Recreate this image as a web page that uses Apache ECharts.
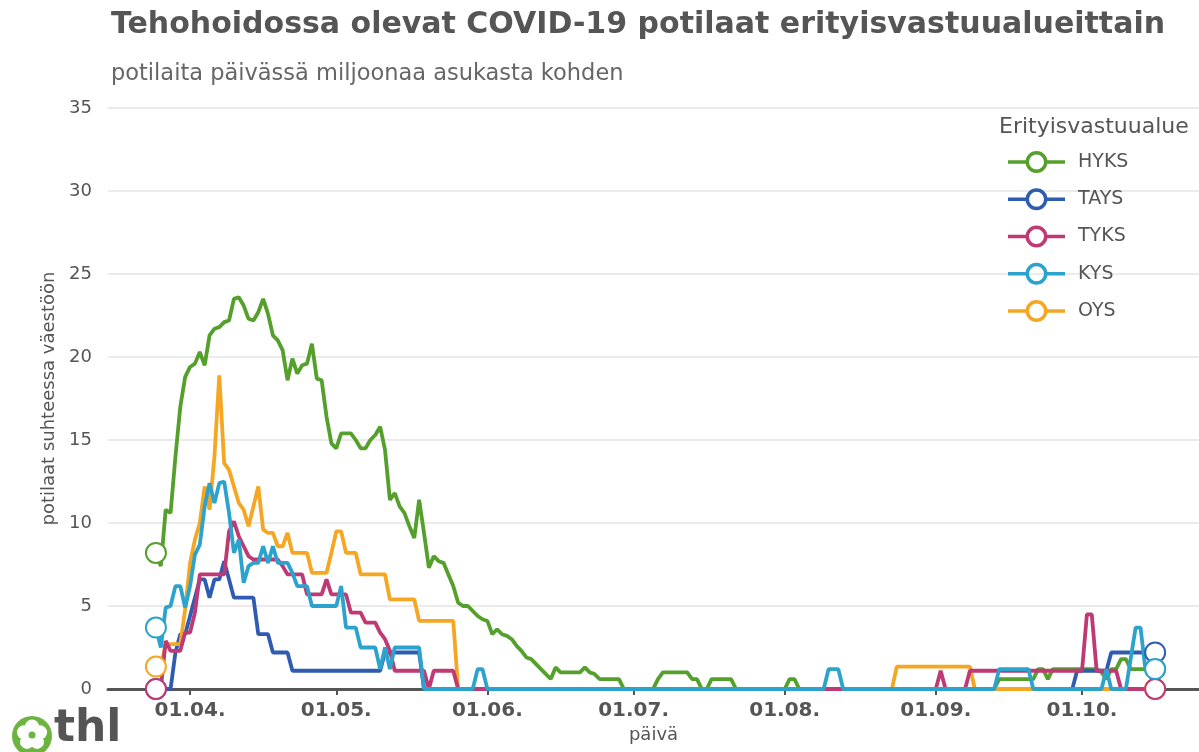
<!DOCTYPE html>
<html>
<head>
<meta charset="utf-8">
<title>Tehohoidossa olevat COVID-19 potilaat</title>
<script src="https://cdn.jsdelivr.net/npm/echarts@6/dist/echarts.min.js"></script>
<style>
  html, body { margin: 0; padding: 0; background: #fff; }
  #chart { width: 1199px; height: 752px; }
</style>
</head>
<body>
<div id="chart"></div>
<script>
// days are counted from 1 April 2020, values are patients per million inhabitants
const dayZero = '2020-04-01';
const axisStart = '2020-03-15 04:00:00';
const axisEnd = '2020-10-25';
const monthTicks = ['2020-04-01', '2020-05-01', '2020-06-01', '2020-07-01', '2020-08-01', '2020-09-01', '2020-10-01'];
const yTicks = [0, 5, 10, 15, 20, 25, 30, 35];

const legendOrder = ['HYKS', 'TAYS', 'TYKS', 'KYS', 'OYS'];

const HYKS = [
  [-7, 8.2], [-6, 7.4], [-5, 10.8], [-4, 10.6], [-3, 14.0], [-2, 17.0], [-1, 18.8],
  [0, 19.4], [1, 19.6], [2, 20.3], [3, 19.5], [4, 21.3], [5, 21.7], [6, 21.8], [7, 22.1],
  [8, 22.2], [9, 23.5], [10, 23.6], [11, 23.1], [12, 22.3], [13, 22.2], [14, 22.7], [15, 23.5],
  [16, 22.6], [17, 21.3], [18, 21.0], [19, 20.4], [20, 18.6], [21, 19.9], [22, 19.0], [23, 19.5],
  [24, 19.6], [25, 20.8], [26, 18.7], [27, 18.6], [28, 16.4], [29, 14.8], [30, 14.5], [31, 15.4],
  [33, 15.4], [34, 15.0], [35, 14.5], [36, 14.5], [37, 15.0], [38, 15.3], [39, 15.8], [40, 14.4],
  [41, 11.4], [42, 11.8], [43, 11.0], [44, 10.6], [45, 9.8], [46, 9.1], [47, 11.4], [48, 9.4],
  [49, 7.3], [50, 8.0], [51, 7.7], [52, 7.6], [53, 6.9], [54, 6.2], [55, 5.2], [56, 5.0],
  [57, 5.0], [58, 4.7], [59, 4.4], [60, 4.2], [61, 4.1], [62, 3.3], [63, 3.6], [64, 3.3],
  [65, 3.2], [66, 3.0], [67, 2.6], [68, 2.3], [69, 1.9], [70, 1.8], [71, 1.5], [72, 1.2],
  [73, 0.9], [74, 0.6], [75, 1.3], [76, 1.0], [80, 1.0], [81, 1.3], [82, 1.0], [83, 0.9],
  [84, 0.6], [88, 0.6], [89, 0], [95, 0], [96, 0.6], [97, 1.0], [102, 1.0], [103, 0.6],
  [104, 0.6], [105, 0], [106, 0], [107, 0.6], [111, 0.6], [112, 0], [122, 0], [123, 0.6],
  [124, 0.6], [125, 0], [165, 0], [166, 0.6], [173, 0.6], [174, 1.2], [175, 1.2], [176, 0.6],
  [177, 1.2], [186, 1.2], [187, 1.0], [188, 0.6], [189, 1.2], [190, 1.2], [191, 1.8], [192, 1.8],
  [193, 1.2], [198, 1.2]
];

const TAYS = [
  [-7, 0], [-4, 0], [-3, 2.2], [-2, 3.3], [-1, 3.3], [0, 4.4], [1, 5.5], [2, 6.6], [3, 6.6],
  [4, 5.5], [5, 6.6], [6, 6.6], [7, 7.7], [8, 6.6], [9, 5.5], [13, 5.5], [14, 3.3], [16, 3.3],
  [17, 2.2], [20, 2.2], [21, 1.1], [39, 1.1], [40, 2.2], [47, 2.2], [48, 0], [181, 0],
  [182, 1.1], [188, 1.1], [189, 2.2], [198, 2.2]
];

const TYKS = [
  [-7, 0], [-6, 0], [-5, 2.9], [-4, 2.3], [-2, 2.3], [-1, 3.4], [0, 3.4], [1, 4.6], [2, 6.9],
  [7, 6.9], [8, 9.5], [9, 10.1], [10, 9.2], [11, 8.6], [12, 8.0], [13, 7.8], [18, 7.8],
  [19, 7.4], [20, 6.9], [23, 6.9], [24, 5.7], [27, 5.7], [28, 6.6], [29, 5.7], [32, 5.7],
  [33, 4.6], [35, 4.6], [36, 4.0], [38, 4.0], [39, 3.4], [40, 3.0], [41, 2.3], [42, 1.1],
  [48, 1.1], [49, 0], [50, 1.1], [54, 1.1], [55, 0], [153, 0], [154, 1.1], [155, 0], [159, 0],
  [160, 1.1], [183, 1.1], [184, 4.5], [185, 4.5], [186, 1.1], [190, 1.1], [191, 0], [198, 0]
];

const KYS = [
  [-7, 3.7], [-6, 2.5], [-5, 4.9], [-4, 5.0], [-3, 6.2], [-2, 6.2], [-1, 4.9], [0, 6.2],
  [1, 8.1], [2, 8.7], [3, 11.0], [4, 12.4], [5, 11.2], [6, 12.4], [7, 12.5], [8, 10.6],
  [9, 8.2], [10, 9.0], [11, 6.4], [12, 7.4], [13, 7.6], [14, 7.6], [15, 8.6], [16, 7.6],
  [17, 8.6], [18, 7.6], [20, 7.6], [21, 7.0], [22, 6.2], [24, 6.2], [25, 5.0], [30, 5.0],
  [31, 6.2], [32, 3.7], [34, 3.7], [35, 2.5], [38, 2.5], [39, 1.2], [40, 2.5], [41, 1.2],
  [42, 2.5], [47, 2.5], [48, 0], [58, 0], [59, 1.2], [60, 1.2], [61, 0], [130, 0], [131, 1.2],
  [133, 1.2], [134, 0], [165, 0], [166, 1.2], [172, 1.2], [173, 0], [187, 0], [188, 1.2],
  [189, 0], [192, 0], [194, 3.7], [195, 3.7], [196, 1.2], [198, 1.2]
];

const OYS = [
  [-7, 1.35], [-6, 1.35], [-5, 2.7], [-2, 2.7], [-1, 4.8], [0, 7.6], [1, 9.0], [2, 10.0],
  [3, 12.2], [4, 10.8], [5, 14.0], [6, 18.9], [7, 13.6], [8, 13.2], [9, 12.2], [10, 11.2],
  [11, 10.8], [12, 9.8], [13, 11.0], [14, 12.2], [15, 9.6], [16, 9.4], [17, 9.4], [18, 8.6],
  [19, 8.6], [20, 9.4], [21, 8.2], [24, 8.2], [25, 7.0], [28, 7.0], [29, 8.2], [30, 9.5],
  [31, 9.5], [32, 8.2], [34, 8.2], [35, 6.9], [40, 6.9], [41, 5.4], [46, 5.4], [47, 4.1],
  [54, 4.1], [55, 0], [144, 0], [145, 1.35], [160, 1.35], [161, 0], [198, 0]
];

const colors = {
  HYKS: '#55a02c',
  TAYS: '#2f5cb1',
  TYKS: '#bf3a74',
  KYS: '#2ca3cd',
  OYS: '#f5a623'
};

// drawing order: TYKS and KYS end up on top, as in the picture
const drawOrder = [['HYKS', HYKS], ['TAYS', TAYS], ['OYS', OYS], ['TYKS', TYKS], ['KYS', KYS]];

const font = 'DejaVu Sans';
const textGrey = '#555555';

const chart = echarts.init(document.getElementById('chart'));
const toTime = s => +echarts.time.parse(s);
const t0 = toTime(dayZero);
const dayMs = 24 * 3600 * 1000;
const monthTickTimes = monthTicks.map(toTime);

const pad2 = n => (n < 10 ? '0' : '') + n;
const dateLabel = v => {
  const d = new Date(v);
  return pad2(d.getDate()) + '.' + pad2(d.getMonth() + 1) + '.';
};

const legendIcon = 'path://M0,11.25H18V14.75H0Z M39,11.25H57V14.75H39Z ' +
  'M17.5,13A11,11,0,1,1,39.5,13A11,11,0,1,1,17.5,13Z M21,13A7.5,7.5,0,1,0,36,13A7.5,7.5,0,1,0,21,13Z';

const series = drawOrder.map(([name, rows]) => {
  const last = rows.length - 1;
  return {
    name: name,
    type: 'line',
    data: rows.map(r => [t0 + r[0] * dayMs, r[1]]),
    color: colors[name],
    symbol: 'emptyCircle',
    symbolSize: (val, params) => (params.dataIndex === 0 || params.dataIndex === last) ? 20 : 0,
    showAllSymbol: true,
    lineStyle: { width: 3.8, color: colors[name] },
    itemStyle: { color: colors[name], borderColor: colors[name], borderWidth: 3.5 },
    emphasis: { disabled: true }
  };
});

// thl logo, bottom left
const petals = [0, 1, 2, 3, 4].map(i => {
  const a = (-90 + i * 72) * Math.PI / 180;
  return {
    type: 'circle',
    shape: { cx: 32 + 8.5 * Math.cos(a), cy: 735 + 8.5 * Math.sin(a), r: 7 },
    style: { fill: '#ffffff' }
  };
});

const option = {
  animation: false,
  backgroundColor: '#ffffff',
  title: [
    {
      text: 'Tehohoidossa olevat COVID-19 potilaat erityisvastuualueittain',
      left: 106, top: 5,
      textStyle: { fontFamily: font, fontSize: 30, fontWeight: 'bold', color: textGrey }
    },
    {
      text: 'potilaita päivässä miljoonaa asukasta kohden',
      left: 106, top: 58,
      textStyle: { fontFamily: font, fontSize: 22.5, fontWeight: 'normal', color: '#666666' }
    },
    {
      text: 'Erityisvastuualue',
      left: 994, top: 111,
      textStyle: { fontFamily: font, fontSize: 22, fontWeight: 'normal', color: textGrey }
    }
  ],
  legend: {
    data: legendOrder,
    orient: 'vertical',
    left: 1003, top: 146,
    itemWidth: 57, itemHeight: 22, itemGap: 15.25,
    icon: legendIcon,
    itemStyle: { borderWidth: 0 },
    textStyle: { fontFamily: font, fontSize: 19, color: textGrey, padding: [0, 0, 0, 8], lineHeight: 22 },
    selectedMode: false
  },
  grid: { left: 108, right: 0, top: 108, bottom: 63, containLabel: false },
  xAxis: {
    type: 'value',
    min: toTime(axisStart),
    max: toTime(axisEnd),
    name: 'päivä',
    nameLocation: 'middle',
    nameGap: 36,
    nameTextStyle: { fontFamily: font, fontSize: 18, color: textGrey },
    axisLine: { show: true, onZero: false, lineStyle: { color: '#555555', width: 3 } },
    axisTick: {
      show: true, length: 6,
      customValues: monthTickTimes,
      lineStyle: { color: '#555555', width: 2 }
    },
    axisLabel: {
      customValues: monthTickTimes,
      formatter: dateLabel,
      fontFamily: font, fontSize: 20, fontWeight: 'bold', color: textGrey, margin: 12
    },
    splitLine: { show: false }
  },
  yAxis: {
    type: 'value',
    min: yTicks[0],
    max: yTicks[yTicks.length - 1],
    interval: yTicks[1] - yTicks[0],
    name: 'potilaat suhteessa väestöön',
    nameLocation: 'middle',
    nameGap: 50,
    nameTextStyle: { fontFamily: font, fontSize: 18, color: textGrey },
    axisLine: { show: false },
    axisTick: { show: false },
    axisLabel: { fontFamily: font, fontSize: 18, color: textGrey, margin: 16 },
    splitLine: { show: true, lineStyle: { color: '#e4e4e4', width: 1.5 } }
  },
  series: series,
  graphic: [
    { type: 'circle', shape: { cx: 32, cy: 736, r: 20 }, style: { fill: '#6db33f' } },
    ...petals,
    { type: 'circle', shape: { cx: 32, cy: 735, r: 3.5 }, style: { fill: '#6db33f' } },
    {
      type: 'text', left: 54, top: 708,
      style: { text: 'thl', font: 'bold 44px "DejaVu Sans"', fill: textGrey }
    }
  ]
};

chart.setOption(option);
</script>
</body>
</html>
